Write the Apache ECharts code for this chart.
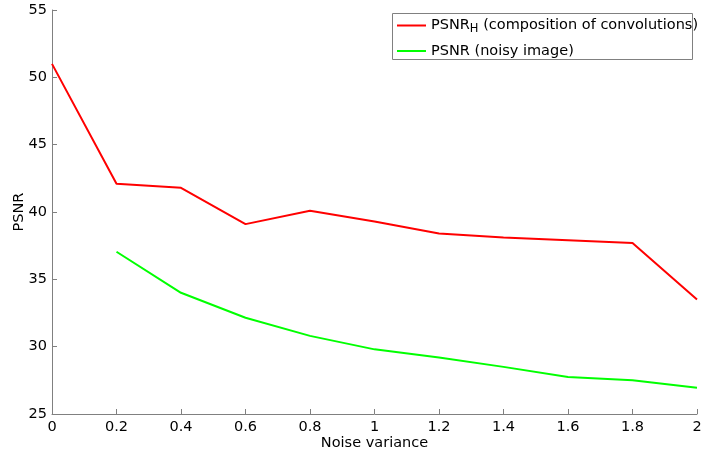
<!DOCTYPE html>
<html>
<head>
<meta charset="utf-8">
<script src="https://cdn.jsdelivr.net/npm/echarts@6/dist/echarts.min.js"></script>
<style>html,body{margin:0;padding:0;background:#fff;}#c{width:703px;height:456px;}</style>
</head>
<body>
<div id="c"></div>
<script>
const noiseVariance = [0, 0.2, 0.4, 0.6, 0.8, 1.0, 1.2, 1.4, 1.6, 1.8, 2.0];
const psnrH = [51.0, 42.1, 41.8, 39.1, 40.1, 39.3, 38.4, 38.1, 37.9, 37.7, 33.5];
const noiseX = [0.2, 0.4, 0.6, 0.8, 1.0, 1.2, 1.4, 1.6, 1.8, 2.0];
const psnrNoisy = [37.05, 34.0, 32.15, 30.8, 29.8, 29.2, 28.5, 27.75, 27.5, 26.95];
const nameH = 'PSNRH (composition of convolutions)';
const nameN = 'PSNR (noisy image)';

const chart = echarts.init(document.getElementById('c'), null, {renderer: 'canvas'});
const font = 'DejaVu Sans';
const fs = 14.5;
chart.setOption({
  animation: false,
  textStyle: {fontFamily: font},
  grid: {left: 52, right: 6, top: 10, bottom: 42, containLabel: false, outerBoundsMode: 'none'},
  graphic: [{
    type: 'rect', z: 3, silent: true,
    shape: {x: 392.5, y: 13.5, width: 300, height: 46},
    style: {fill: '#fff', stroke: '#808080', lineWidth: 1}
  }],
  legend: {
    z: 5,
    orient: 'vertical',
    left: 397,
    top: 18,
    padding: 0,
    itemGap: 8,
    itemWidth: 29,
    itemHeight: 2,
    icon: 'rect',
    data: [nameH, nameN],
    formatter: function (n) {
      return n === nameH ? 'PSNR{h|H} (composition of convolutions)' : n;
    },
    textStyle: {
      fontFamily: font, fontSize: fs, color: '#000',
      rich: {
        h: {fontFamily: font, fontSize: 11.5, color: '#000', padding: [8, 0, 0, 0]}
      }
    }
  },
  xAxis: {
    type: 'value', min: 0, max: 2, interval: 0.2,
    name: 'Noise variance', nameLocation: 'middle', nameGap: 21.5, nameMoveOverlap: false,
    nameTextStyle: {fontFamily: font, fontSize: fs, color: '#000'},
    axisLine: {show: true, onZero: false, lineStyle: {color: '#808080', width: 1}},
    axisTick: {show: true, inside: true, length: 5, lineStyle: {color: '#808080'}},
    axisLabel: {fontFamily: font, fontSize: fs, color: '#000', margin: 6},
    splitLine: {show: false}
  },
  yAxis: {
    type: 'value', min: 25, max: 55, interval: 5,
    name: 'PSNR', nameLocation: 'middle', nameGap: 25.5, nameRotate: 90, nameMoveOverlap: false,
    nameTextStyle: {fontFamily: font, fontSize: fs, color: '#000'},
    axisLine: {show: true, onZero: false, lineStyle: {color: '#808080', width: 1}},
    axisTick: {show: true, inside: true, length: 5, lineStyle: {color: '#808080'}},
    axisLabel: {fontFamily: font, fontSize: fs, color: '#000', margin: 5},
    splitLine: {show: false}
  },
  series: [
    {
      name: nameH, type: 'line', symbol: 'none',
      data: noiseVariance.map((x, i) => [x, psnrH[i]]),
      lineStyle: {color: '#ff0000', width: 2}, itemStyle: {color: '#ff0000'}
    },
    {
      name: nameN, type: 'line', symbol: 'none',
      data: noiseX.map((x, i) => [x, psnrNoisy[i]]),
      lineStyle: {color: '#00ff00', width: 2}, itemStyle: {color: '#00ff00'}
    }
  ]
});
</script>
</body>
</html>
